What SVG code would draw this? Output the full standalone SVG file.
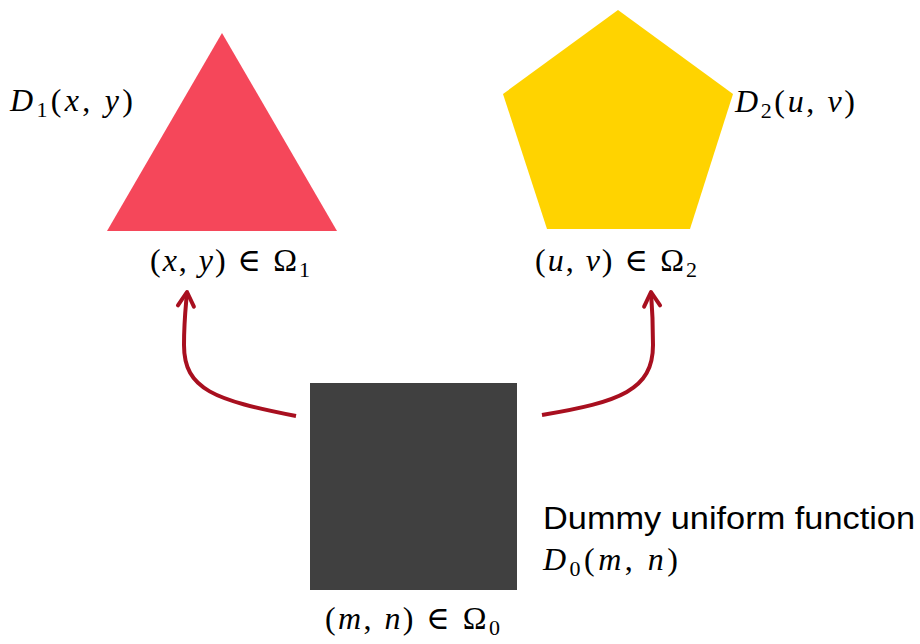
<svg xmlns="http://www.w3.org/2000/svg" width="920" height="644" viewBox="0 0 920 644">
<style>
.m{font-family:"Liberation Serif","DejaVu Serif",serif;font-size:32px;fill:#000}
.i{font-style:italic}
.s{font-size:22px}
.t{font-family:"Liberation Sans",Arial,sans-serif;font-size:31px;fill:#000}
.c{fill:none;stroke:#A80F1F;stroke-width:4}
</style>
<defs>
<marker id="ah" markerUnits="userSpaceOnUse" viewBox="-20 -12 24 24" markerWidth="24" markerHeight="24" refX="0" refY="0" orient="auto">
<path d="M-14,-8 L0,0 L-14,8" fill="none" stroke="#A80F1F" stroke-width="4" stroke-linecap="round" stroke-linejoin="round"/>
</marker>
</defs>
<rect width="920" height="644" fill="#fff"/>
<g id="connectors">
<path class="c" d="M296,416 C215,400 184,390 184,345 C184,320 186,305 187,292" marker-end="url(#ah)"/>
<path class="c" d="M542,415 C620,402 653,390 653,345 C653,320 652,305 651,292" marker-end="url(#ah)"/>
</g>
<g id="triangle">
<polygon points="222,33 107,231 337,231" fill="#F5475A"/>
<text class="m" x="10" y="111" textLength="123" lengthAdjust="spacing"><tspan class="i">D</tspan><tspan class="s" dy="6">1</tspan><tspan dy="-6">(</tspan><tspan class="i">x</tspan>, <tspan class="i">y</tspan>)</text>
<text class="m" x="150" y="271" textLength="160" lengthAdjust="spacing">(<tspan class="i">x</tspan>, <tspan class="i">y</tspan>) ∈ Ω<tspan class="s" dy="6">1</tspan></text>
</g>
<g id="pentagon">
<polygon points="618,10 733,94 690,229 547,229 503,94" fill="#FFD300"/>
<text class="m" x="735" y="112" textLength="120" lengthAdjust="spacing"><tspan class="i">D</tspan><tspan class="s" dy="6">2</tspan><tspan dy="-6">(</tspan><tspan class="i">u</tspan>, <tspan class="i">v</tspan>)</text>
<text class="m" x="535" y="271" textLength="162" lengthAdjust="spacing">(<tspan class="i">u</tspan>, <tspan class="i">v</tspan>) ∈ Ω<tspan class="s" dy="6">2</tspan></text>
</g>
<g id="square">
<rect x="310" y="383" width="207" height="207" fill="#404040"/>
<text class="t" x="543" y="529" textLength="372" lengthAdjust="spacingAndGlyphs">Dummy uniform function</text>
<text class="m" x="543" y="570" textLength="135" lengthAdjust="spacing"><tspan class="i">D</tspan><tspan class="s" dy="6">0</tspan><tspan dy="-6">(</tspan><tspan class="i">m</tspan>, <tspan class="i">n</tspan>)</text>
<text class="m" x="325" y="629" textLength="175" lengthAdjust="spacing">(<tspan class="i">m</tspan>, <tspan class="i">n</tspan>) ∈ Ω<tspan class="s" dy="6">0</tspan></text>
</g>
</svg>
